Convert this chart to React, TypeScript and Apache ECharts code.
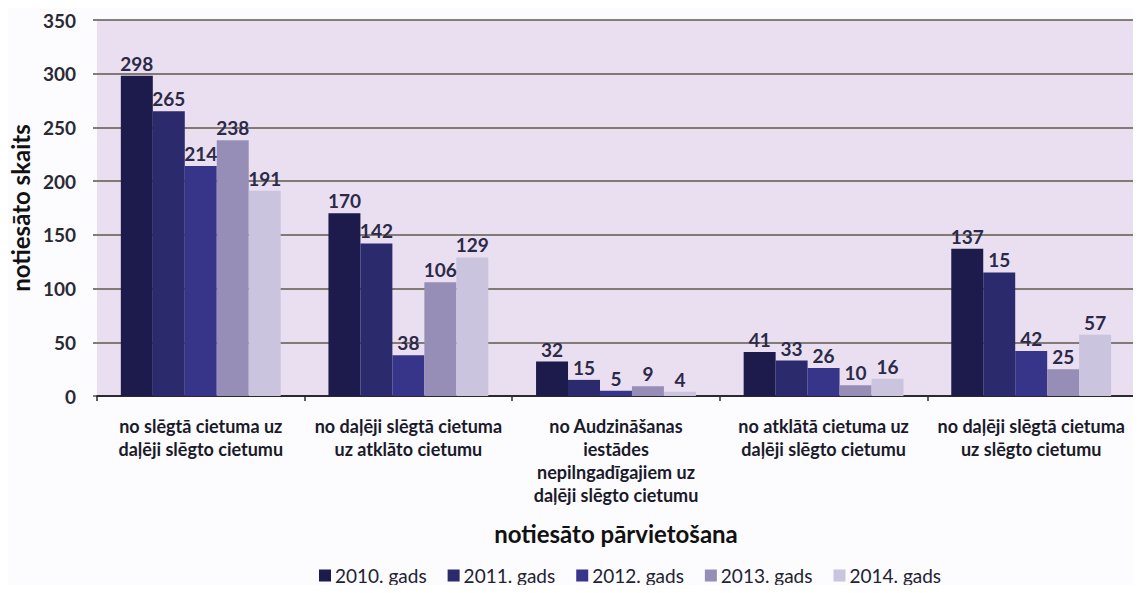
import React, { useEffect, useRef } from "react";
import * as echarts from "echarts";

const categories = [
  "no slēgtā cietuma uz\ndaļēji slēgto cietumu",
  "no daļēji slēgtā cietuma\nuz atklāto cietumu",
  "no Audzināšanas\niestādes\nnepilngadīgajiem uz\ndaļēji slēgto cietumu",
  "no atklātā cietuma uz\ndaļēji slēgto cietumu",
  "no daļēji slēgtā cietuma\nuz slēgto cietumu",
];

const seriesNames = ["2010. gads", "2011. gads", "2012. gads", "2013. gads", "2014. gads"];

const values2010 = [298, 170, 32, 41, 137];
const values2011 = [265, 142, 15, 33, 115];
const values2012 = [214, 38, 5, 26, 42];
const values2013 = [238, 106, 9, 10, 25];
const values2014 = [191, 129, 4, 16, 57];

// data label texts exactly as printed in the chart
const labels2010 = ["298", "170", "32", "41", "137"];
const labels2011 = ["265", "142", "15", "33", "15"];
const labels2012 = ["214", "38", "5", "26", "42"];
const labels2013 = ["238", "106", "9", "10", "25"];
const labels2014 = ["191", "129", "4", "16", "57"];

const yTicks = [0, 50, 100, 150, 200, 250, 300, 350];

const allValues = [values2010, values2011, values2012, values2013, values2014];
const allLabels = [labels2010, labels2011, labels2012, labels2013, labels2014];
const colors = ["#1c1b4b", "#2b2a6c", "#37358a", "#968eb7", "#cac4de"];

const FONT = "Lato";

export default function App() {
  const ref = useRef<HTMLDivElement>(null);

  useEffect(() => {
    if (!ref.current) return;
    const chart = echarts.init(ref.current, null, { renderer: "svg" });
    chart.setOption({
      animation: false,
      backgroundColor: "#fcfbfd",
      textStyle: { fontFamily: FONT },
      grid: {
        left: 96,
        right: 6,
        top: 20,
        bottom: 197,
        show: true,
        backgroundColor: "#eadff0",
        borderWidth: 0,
      },
      legend: {
        bottom: 3,
        left: 314,
        itemWidth: 12,
        itemHeight: 12,
        itemGap: 21,
        icon: "rect",
        textStyle: { fontFamily: FONT, fontSize: 19, color: "#222233", padding: [0, 0, 0, -1] },
        data: seriesNames,
      },
      xAxis: {
        type: "category",
        data: categories,
        name: "notiesāto pārvietošana",
        nameLocation: "middle",
        nameGap: 125,
        nameTextStyle: { fontFamily: FONT, fontSize: 24, fontWeight: "bold", color: "#111111" },
        axisLine: { show: true, lineStyle: { color: "#2a2a2a", width: 2 } },
        axisTick: { show: true, length: 5, lineStyle: { color: "#2a2a2a", width: 1.5 } },
        axisLabel: {
          interval: 0,
          margin: 18,
          fontFamily: FONT,
          fontSize: 18,
          fontWeight: "bold",
          lineHeight: 23,
          color: "#1a1a2a",
        },
        splitLine: { show: false },
      },
      yAxis: {
        type: "value",
        min: 0,
        max: 350,
        interval: 50,
        name: "notiesāto skaits",
        nameLocation: "middle",
        nameGap: 62,
        nameTextStyle: { fontFamily: FONT, fontSize: 24, fontWeight: "bold", color: "#111111" },
        axisLine: { show: false },
        axisTick: { show: true, length: 4, lineStyle: { color: "#5a5548", width: 1.5 } },
        axisLabel: {
          margin: 21,
          fontFamily: FONT,
          fontSize: 19,
          fontWeight: "bold",
          color: "#2a2a35",
          formatter: (v: number) => (yTicks.includes(v) ? String(v) : ""),
        },
        splitLine: { show: true, lineStyle: { color: "#5e584c", width: 1.5 } },
      },
      series: seriesNames.map((name, i) => ({
        name,
        type: "bar",
        data: allValues[i],
        barGap: "0%",
        barCategoryGap: "23%",
        itemStyle: { color: colors[i] },
        label: {
          show: true,
          position: "top",
          distance: 3,
          fontFamily: FONT,
          fontSize: 19,
          fontWeight: "bold",
          color: "#2b2a48",
          formatter: (p: any) => allLabels[i][p.dataIndex],
        },
      })),
    });
    return () => chart.dispose();
  }, []);

  return <div ref={ref} style={{ width: 1141, height: 593, margin: -8 }} />;
}
